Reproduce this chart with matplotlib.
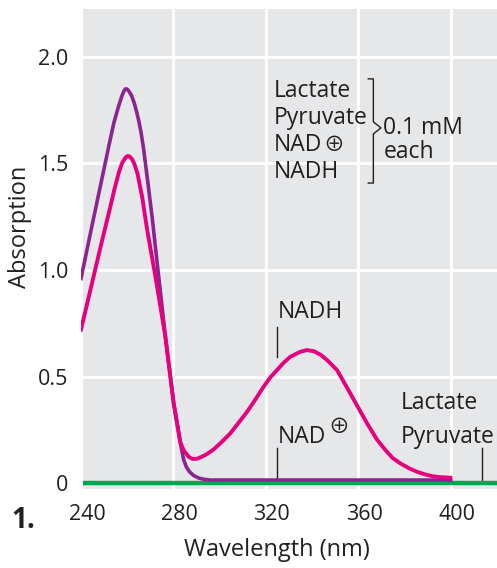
import matplotlib.pyplot as plt
from matplotlib.transforms import ScaledTranslation

plt.rcParams['font.family'] = ['Open Sans', 'DejaVu Sans']

# NAD+ (purple)
nad_wl = [240, 244.8, 248.5, 252, 254.2, 256.3, 257.8, 258.6, 259.2, 259.9, 260.5, 261.8,
          263, 264, 265, 266, 267, 268, 269.4, 270.8, 273.6, 276.5, 280.1, 283, 284.4,
          285.6, 287, 288.8, 291, 293.5, 296, 300, 400]
nad_abs = [0.96, 1.21, 1.40, 1.58, 1.69, 1.77, 1.82, 1.84, 1.85, 1.849, 1.843, 1.82,
           1.785, 1.745, 1.70, 1.645, 1.575, 1.49, 1.37, 1.245, 0.97, 0.687, 0.374, 0.188, 0.11,
           0.075, 0.052, 0.035, 0.023, 0.017, 0.014, 0.014, 0.014]

# NADH (pink)
nadh_wl = [240, 244.8, 248.5, 252, 254.5, 256.3, 257.7, 258.8, 259.6, 260.3, 261.1, 262.1,
           263.2, 264.5, 266.5, 268.6, 272.2, 276.5, 280.1, 283, 284.5, 286.6, 288.3,
           290.2, 292, 294.5, 297.4, 300.8, 304.6, 308.2, 311.9, 315.5, 319, 322,
           324.8, 327.8, 330.6, 334.9, 337.7, 340.7, 343.7, 346.5, 350.8, 356.5, 363.8,
           368, 371.7, 374.8, 378.2, 381.8, 385.4, 389, 392.6, 396, 399.8]
nadh_abs = [0.72, 0.94, 1.11, 1.266, 1.38, 1.455, 1.50, 1.52, 1.532, 1.535, 1.532, 1.52,
            1.495, 1.45, 1.34, 1.19, 0.97, 0.687, 0.374, 0.19, 0.152, 0.123, 0.113,
            0.114, 0.122, 0.136, 0.158, 0.192, 0.233, 0.283, 0.335, 0.393, 0.452, 0.497,
            0.53, 0.566, 0.593, 0.616, 0.624, 0.619, 0.602, 0.577, 0.53, 0.421, 0.28,
            0.205, 0.155, 0.118, 0.092, 0.07, 0.053, 0.04, 0.031, 0.027, 0.025]

# Lactate / Pyruvate (green)
lp_wl = [241, 420]
lp_abs = [0, 0]

xticks = [240, 280, 320, 360, 400]
yticks = [0, 0.5, 1.0, 1.5, 2.0]
ytick_labels = ['0', '0.5', '1.0', '1.5', '2.0']

txt = '#231f20'

fig = plt.figure(figsize=(4.97, 5.68), dpi=100)
ax = fig.add_axes([81 / 497, 79 / 568, 1 - 81 / 497, 480 / 568])
ax.set_facecolor('#e6e7e8')
ax.set_xlim(240, 420)
ax.set_ylim(-0.028, 2.225)
for s in ax.spines.values():
    s.set_visible(False)

ax.set_xticks(xticks)
ax.set_yticks(yticks)
ax.set_yticklabels(ytick_labels)
ax.grid(color='white', linewidth=2.2)
ax.set_axisbelow(True)
ax.tick_params(length=0, labelsize=15.5, colors=txt, pad=9)
ax.tick_params(axis='x', pad=11)
# x tick labels sit a bit right of their grid lines in the original
for lab in ax.get_xticklabels():
    lab.set_transform(lab.get_transform() + ScaledTranslation(6 / 100, 0, fig.dpi_scale_trans))

ax.plot(lp_wl, lp_abs, color='#00a650', lw=3.2, solid_capstyle='butt', zorder=3)
ax.plot(nad_wl, nad_abs, color='#8b2390', lw=2.6, solid_joinstyle='round', zorder=4)
ax.plot(nadh_wl, nadh_abs, color='#e6007e', lw=2.8, solid_joinstyle='round', zorder=5)

fig.text(277 / 497, 1 - 550 / 568, 'Wavelength (nm)', fontsize=17, color=txt,
         ha='center', va='center')
fig.text(20 / 497, 1 - 227 / 568, 'Absorption', fontsize=17, color=txt,
         ha='center', va='center', rotation=90)

fs = 16.5


def oplus(label, dy):
    # circled plus just after the label
    ax.annotate('\u2295', xy=(1, 0.5), xycoords=label, xytext=(1.5, dy),
                textcoords='offset points', fontsize=15, color=txt,
                family=['Noto Sans CJK JP', 'DejaVu Sans'], va='center', ha='left')


# legend text block with bracket
for i, s in enumerate(['Lactate', 'Pyruvate', 'NAD', 'NADH']):
    t = ax.text(323.2, 1.84 - i * 0.127, s, fontsize=fs, color=txt, va='center', ha='left')
    if s == 'NAD':
        oplus(t, 0)
ax.plot([364.3, 366.5, 366.5, 369.8, 366.5, 366.5, 364.3],
        [1.897, 1.897, 1.695, 1.667, 1.639, 1.408, 1.408], color=txt, lw=1.0)
ax.text(370.8, 1.667, '0.1 mM', fontsize=fs, color=txt, va='center', ha='left')
ax.text(370.8, 1.554, 'each', fontsize=fs, color=txt, va='center', ha='left')

# NADH label
ax.text(325, 0.803, 'NADH', fontsize=fs, color=txt, va='center', ha='left')
ax.plot([325, 325], [0.732, 0.592], color=txt, lw=1.0)

# NAD+ label
t = ax.text(325, 0.216, 'NAD', fontsize=fs, color=txt, va='center', ha='left')
oplus(t, 7.5)
ax.plot([325, 325], [0.164, 0.014], color=txt, lw=1.0)

# Lactate / Pyruvate label
ax.text(378.2, 0.376, 'Lactate', fontsize=fs, color=txt, va='center', ha='left')
ax.text(378.2, 0.216, 'Pyruvate', fontsize=fs, color=txt, va='center', ha='left')
ax.plot([413.6, 413.6], [0.164, 0.0], color=txt, lw=1.0)

fig.text(23 / 497, 1 - 521 / 568, '1.', fontsize=20, fontweight='bold', color=txt,
         ha='center', va='center')

fig.savefig('out.png', dpi=100)
